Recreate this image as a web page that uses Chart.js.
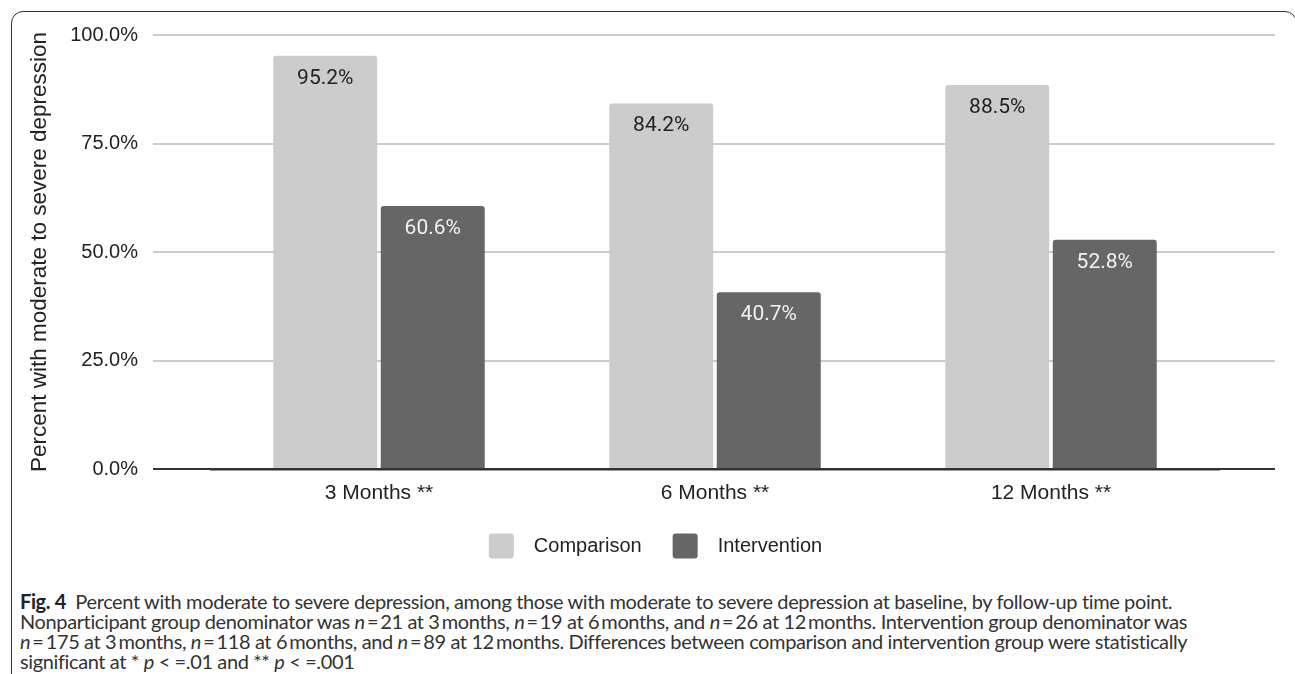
<!doctype html>
<html>

<head>
    <title>Percent with moderate to severe depression</title>
    <script src="https://cdn.jsdelivr.net/npm/chart.js@4.4.1/dist/chart.umd.min.js"></script>
    <style>
    body {
        margin: 0;
        background: #fff;
        width: 1295px;
        height: 674px;
        overflow: hidden;
        position: relative;
    }
    .frame {
        position: absolute;
        left: 11px;
        top: 11px;
        width: 1286px;
        height: 720px;
        box-sizing: border-box;
        border: 1.5px solid #333;
        border-radius: 12px;
    }
    .chart-box {
        position: absolute;
        left: 0;
        top: 0;
        width: 1295px;
        height: 571px;
    }
    .caption {
        position: absolute;
        left: 20px;
        top: 591px;
        font-family: Lato, "Open Sans", sans-serif;
        font-size: 20px;
        letter-spacing: -0.38px;
        line-height: 20px;
        color: #333;
        white-space: nowrap;
    }
    .caption b {
        color: #222;
    }
    </style>
</head>

<body>
    <div class="frame"></div>
    <div class="chart-box">
        <canvas id="canvas"></canvas>
    </div>
    <div class="caption">
        <b>Fig. 4</b>&nbsp;&nbsp;Percent with moderate to severe depression, among those with moderate to severe depression at baseline, by follow-up time point.<br>
        Nonparticipant group denominator was <i>n</i>&thinsp;=&thinsp;21 at 3&thinsp;months, <i>n</i>&thinsp;=&thinsp;19 at 6&thinsp;months, and <i>n</i>&thinsp;=&thinsp;26 at 12&thinsp;months. Intervention group denominator was<br>
        <i>n</i>&thinsp;=&thinsp;175 at 3&thinsp;months, <i>n</i>&thinsp;=&thinsp;118 at 6&thinsp;months, and <i>n</i>&thinsp;=&thinsp;89 at 12&thinsp;months. Differences between comparison and intervention group were statistically<br>
        significant at * <i>p</i> &lt; =.01 and ** <i>p</i> &lt; =.001
    </div>
    <script>
    var timePoints = ['3 Months **', '6 Months **', '12 Months **'];
    var comparison = [95.2, 84.2, 88.5];
    var intervention = [60.6, 40.7, 52.8];
    var yTicks = [0, 25, 50, 75, 100];

    var axisFont = { family: '"Liberation Sans", Arial, sans-serif', size: 20 };

    // zero line dark, the rest light grey
    var gridColor = function(ctx) {
        return ctx.tick && ctx.tick.value === 0 ? '#333333' : '#cccccc';
    };

    // value printed inside the top of each bar
    var barLabels = {
        id: 'barLabels',
        afterDatasetsDraw: function(chart) {
            var ctx = chart.ctx;
            ctx.save();
            ctx.font = '21px Roboto, sans-serif';
            ctx.textAlign = 'center';
            ctx.textBaseline = 'middle';
            chart.data.datasets.forEach(function(ds, i) {
                ctx.fillStyle = ds.labelColor;
                chart.getDatasetMeta(i).data.forEach(function(bar, j) {
                    ctx.fillText(ds.data[j].toFixed(1) + '%', bar.x, bar.y + 22.5);
                });
            });
            ctx.restore();
        }
    };

    var config = {
        type: 'bar',
        data: {
            labels: timePoints,
            datasets: [{
                label: 'Comparison',
                data: comparison,
                backgroundColor: '#cccccc',
                labelColor: '#222222',
                borderRadius: { topLeft: 3, topRight: 3 },
                borderSkipped: 'bottom'
            }, {
                label: 'Intervention',
                data: intervention,
                backgroundColor: '#666666',
                labelColor: '#f2f2f2',
                borderRadius: { topLeft: 3, topRight: 3 },
                borderSkipped: 'bottom'
            }]
        },
        options: {
            responsive: true,
            maintainAspectRatio: false,
            animation: false,
            categoryPercentage: 0.64,
            barPercentage: 0.967,
            layout: {
                padding: { top: 35, left: 36, right: 20, bottom: 2.5 }
            },
            plugins: {
                tooltip: { enabled: false },
                legend: {
                    position: 'bottom',
                    labels: {
                        boxWidth: 25,
                        boxHeight: 25,
                        padding: 31,
                        useBorderRadius: true,
                        borderRadius: 3,
                        color: '#222',
                        font: { family: '"Liberation Sans", Arial, sans-serif', size: 20 },
                        // a little more room between swatch and text
                        generateLabels: function(chart) {
                            var items = Chart.defaults.plugins.legend.labels.generateLabels(chart);
                            items.forEach(function(item) { item.text = '\u2002' + item.text; });
                            return items;
                        }
                    }
                }
            },
            scales: {
                x: {
                    grid: { display: false, drawTicks: false },
                    border: { display: true, color: '#333333', width: 2.5, z: 1 },
                    ticks: { color: '#222', font: { family: axisFont.family, size: 21 }, padding: 11.5 },
                    afterFit: function(scale) { scale.height = 33.5; }
                },
                y: {
                    min: 0,
                    max: 100,
                    afterBuildTicks: function(scale) {
                        scale.ticks = yTicks.map(function(v) { return { value: v }; });
                    },
                    grid: { color: gridColor, lineWidth: 2, tickLength: 58 },
                    border: { display: false },
                    ticks: {
                        color: '#222',
                        font: axisFont,
                        padding: 15,
                        callback: function(v) { return v.toFixed(1) + '%'; }
                    },
                    title: {
                        display: true,
                        text: 'Percent with moderate to severe depression',
                        color: '#222',
                        font: { family: axisFont.family, size: 22.5 },
                        padding: { top: -9.5, bottom: 0 }
                    },
                    afterFit: function(scale) { scale.width = 175; }
                },
                // right-hand stub so the gridlines run past the last group
                yRight: {
                    position: 'right',
                    min: 0,
                    max: 100,
                    afterBuildTicks: function(scale) {
                        scale.ticks = yTicks.map(function(v) { return { value: v }; });
                    },
                    grid: { color: gridColor, lineWidth: 2, tickLength: 56, drawOnChartArea: false },
                    border: { display: false },
                    ticks: { display: false },
                    afterFit: function(scale) { scale.width = 56; }
                }
            }
        },
        plugins: [barLabels]
    };

    window.onload = function() {
        window.myBar = new Chart(document.getElementById('canvas'), config);
    };
    </script>
</body>

</html>
